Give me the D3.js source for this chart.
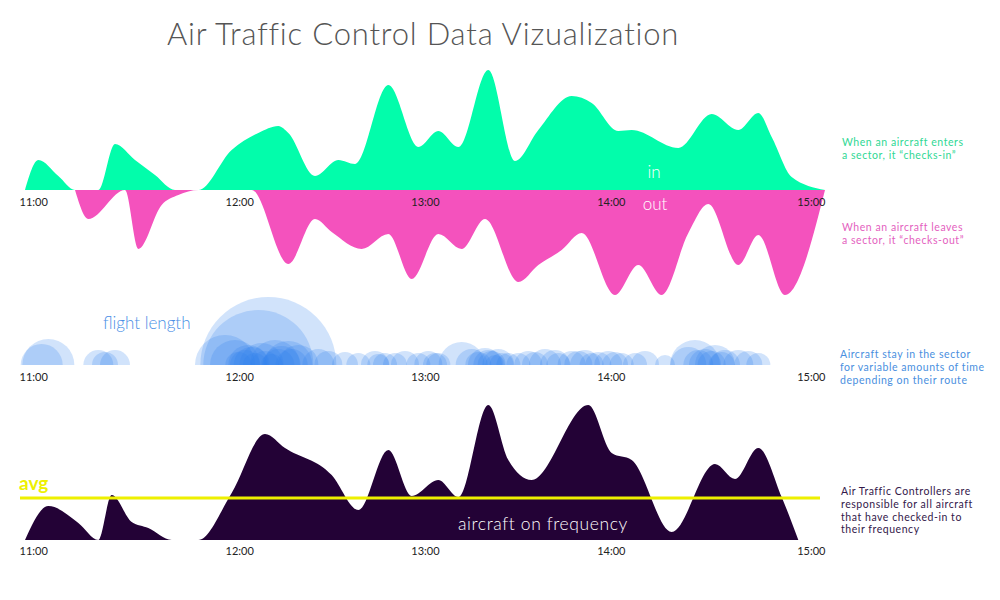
<!DOCTYPE html>
<html>
<head>
<meta charset="utf-8">
<script src="https://cdn.jsdelivr.net/npm/d3@7/dist/d3.min.js"></script>
<style>
  html, body { margin: 0; padding: 0; background: #fff; }
  svg { display: block; font-family: Lato, "Open Sans", sans-serif; }
</style>
</head>
<body>
<svg id="chart" width="1000" height="600"></svg>
<script>
// ---------------- DATA ----------------
const timeDomain = ["11:00", "15:00"];
const tickLabels = ["11:00", "12:00", "13:00", "14:00", "15:00"];

// aircraft checking in
const inTimes  = ["11:00","11:04","11:10","11:15","11:22","11:27","11:33","11:39","11:45","11:52",
                  "12:02","12:10","12:16","12:19","12:27","12:34","12:39","12:49","12:58","13:04",
                  "13:10","13:19","13:27","13:34","13:44","13:50","13:58","14:02","14:16","14:26",
                  "14:34","14:40","14:44","14:50","15:00"];
const inValues = [0, 3.0, 1.4, 0, 0, 4.6, 3.0, 1.5, 0, 0,
                  4.0, 5.7, 6.4, 5.7, 1.4, 3.0, 2.6, 10.5, 4.3, 5.9,
                  4.3, 12.0, 2.9, 6.0, 9.4, 8.7, 5.9, 6.0, 4.2, 7.6,
                  6.0, 7.7, 5.3, 1.3, 0];

// aircraft checking out
const outTimes  = ["11:15","11:19","11:30","11:34","11:41","11:46","11:52","12:08","12:19","12:27",
                   "12:32","12:41","12:49","12:56","13:04","13:11","13:18","13:28","13:34","13:41",
                   "13:47","13:57","14:04","14:11","14:19","14:25","14:34","14:40","14:48","15:00"];
const outValues = [0, 2.9, 0, 5.9, 1.5, 0.5, 0, 0, 7.4, 2.9,
                   4.2, 5.9, 4.4, 8.9, 4.4, 5.9, 2.9, 9.2, 7.5, 6.0,
                   4.3, 10.5, 7.5, 10.5, 4.3, 1.4, 7.5, 4.5, 10.5, 0];

// flights: check-in time and flight length
const flightTimes   = ["11:07","11:05","11:22","11:24","11:27","12:13","12:10","12:00","12:03","12:07",
                       "12:06","12:11","12:15","12:19","12:22","12:09","12:16","12:28","12:31","12:36",
                       "12:40","12:45","12:48","12:51","12:54","12:58","13:01","13:04","13:11","13:14",
                       "13:18","13:20","13:22","13:25","13:28","13:31","13:36","13:39","13:40","13:44",
                       "13:48","13:52","13:55","13:59","14:03","14:06","14:12","14:21","14:19","14:24",
                       "14:27","14:30","14:34","14:37","14:40","13:21","12:14","12:04",
                       "12:08","12:12","12:17","12:20","13:16","13:19","13:23","13:33","13:46","13:50",
                       "13:57","14:22","14:26","14:29","12:46","13:03"];
const flightLengths = [26, 21, 15, 13, 15, 68, 55, 30, 25, 20,
                       15, 22, 25, 24, 20, 12, 16, 16, 14, 13,
                       12, 14, 12, 12, 14, 12, 14, 12, 23, 16,
                       17, 14, 16, 12, 12, 14, 16, 15, 12, 14,
                       15, 13, 14, 12, 12, 14, 10, 25, 18, 16,
                       20, 15, 15, 14, 12, 10, 11, 13,
                       18, 14, 19, 16, 13, 15, 12, 13, 14, 12,
                       13, 15, 14, 13, 11, 12];

// aircraft on frequency
const freqTimes  = ["11:00","11:07","11:16","11:22","11:26","11:32","11:37","11:44","11:52","12:02",
                    "12:12","12:18","12:32","12:40","12:49","12:56","13:04","13:10","13:19","13:25",
                    "13:32","13:49","13:56","14:02","14:14","14:27","14:33","14:40","14:47","14:52"];
const freqValues = [0, 3.4, 1.7, 0, 4.5, 1.8, 1.2, 0, 0, 4.7,
                    10.6, 9.2, 6.5, 3.0, 9.0, 4.4, 6.0, 4.3, 13.5, 8.0,
                    6.0, 13.5, 8.7, 8.0, 0.8, 7.6, 6.1, 9.2, 4.3, 0];
const freqAverage = 4.2;

// ---------------- DRAW ----------------
const parse = d3.timeParse("%H:%M");
const svg = d3.select("#chart");

const x = d3.scaleTime().domain(timeDomain.map(parse)).range([25, 825]);
const yIn   = d3.scaleLinear().domain([0, 12]).range([190, 70]);
const yOut  = d3.scaleLinear().domain([0, 12]).range([190, 310]);
const rLen  = d3.scaleLinear().domain([0, 70]).range([0, 70]);
const bubbleBase = 365;
const yFreq = d3.scaleLinear().domain([0, 13.5]).range([540, 405]);

const zip = (ts, vs) => ts.map((t, i) => ({ t: parse(t), v: vs[i] }));

// Title
svg.append("text")
  .attr("x", 167).attr("y", 45)
  .attr("font-size", 31).attr("font-weight", 300)
  .attr("letter-spacing", 0.8)
  .attr("fill", "#555")
  .text("Air Traffic Control Data Vizualization");

// In / Out areas
const areaIn = d3.area().curve(d3.curveMonotoneX)
  .x(d => x(d.t)).y0(yIn(0)).y1(d => yIn(d.v));
const areaOut = d3.area().curve(d3.curveMonotoneX)
  .x(d => x(d.t)).y0(yOut(0)).y1(d => yOut(d.v));

svg.append("path").datum(zip(outTimes, outValues)).attr("d", areaOut).attr("fill", "#f452bd");
svg.append("path").datum(zip(inTimes, inValues)).attr("d", areaIn).attr("fill", "#02fdab");

svg.append("text").attr("x", 654).attr("y", 178).attr("text-anchor", "middle")
  .attr("font-size", 17).attr("font-weight", 300).attr("fill", "#fff").text("in");
svg.append("text").attr("x", 655).attr("y", 210).attr("text-anchor", "middle")
  .attr("font-size", 17).attr("font-weight", 300).attr("fill", "#fff").text("out");

// Axis helper
function timeAxis(yPos) {
  const g = svg.append("g").attr("transform", `translate(0,${yPos})`)
    .call(d3.axisBottom(x).tickValues(tickLabels.map(parse))
      .tickFormat(d3.timeFormat("%H:%M")).tickSize(0).tickPadding(0));
  g.select(".domain").remove();
  g.selectAll("text")
    .attr("font-family", "Lato, sans-serif")
    .attr("font-size", 11).attr("fill", "#222")
    .attr("dy", 0)
    .attr("text-anchor", (d, i) => i < 2 ? "start" : (i === 2 ? "middle" : "end"))
    .attr("dx", (d, i) => i === 0 ? -6 : 0);
  return g;
}
timeAxis(206);

// Bubbles
svg.append("clipPath").attr("id", "aboveBase")
  .append("rect").attr("x", 0).attr("y", 0).attr("width", 1000).attr("height", bubbleBase);

svg.append("g").attr("clip-path", "url(#aboveBase)")
  .selectAll("circle")
  .data(zip(flightTimes, flightLengths))
  .join("circle")
  .attr("cx", d => x(d.t)).attr("cy", bubbleBase)
  .attr("r", d => rLen(d.v))
  .attr("fill", "#2f80ed").attr("fill-opacity", 0.22);

svg.append("text").attr("x", 103).attr("y", 329)
  .attr("font-size", 17).attr("font-weight", 300).attr("fill", "#4a8fe6")
  .text("flight length");

timeAxis(381);

// Frequency
const areaFreq = d3.area().curve(d3.curveMonotoneX)
  .x(d => x(d.t)).y0(yFreq(0)).y1(d => yFreq(d.v));
svg.append("path").datum(zip(freqTimes, freqValues)).attr("d", areaFreq).attr("fill", "#230236");

svg.append("line")
  .attr("x1", x(parse(timeDomain[0])) - 5).attr("x2", x(parse(timeDomain[1])) - 5)
  .attr("y1", yFreq(freqAverage)).attr("y2", yFreq(freqAverage))
  .attr("stroke", "#eef000").attr("stroke-width", 3);

svg.append("text").attr("x", 19).attr("y", 490)
  .attr("font-size", 19).attr("font-weight", 700).attr("fill", "#eef000").text("avg");

svg.append("text").attr("x", 458).attr("y", 530)
  .attr("font-size", 17.5).attr("font-weight", 300).attr("letter-spacing", 0.6).attr("fill", "#fff")
  .text("aircraft on frequency");

timeAxis(555);

// Annotations
function note(xp, y0, color, lines) {
  const t = svg.append("text").attr("x", xp).attr("y", y0)
    .attr("font-size", 10.5).attr("fill", color).attr("letter-spacing", 0.55);
  lines.forEach((l, i) => t.append("tspan").attr("x", xp).attr("dy", i === 0 ? 0 : 12.8).text(l));
}
note(842, 146, "#2fd894", ["When an aircraft enters", "a sector, it \u201cchecks-in\u201d"]);
note(842, 231, "#e45fc0", ["When an aircraft leaves", "a sector,  it \u201cchecks-out\u201d"]);
note(840, 358, "#4a8fe0", ["Aircraft stay in the sector", "for variable amounts of time", "depending on their route"]);
note(841, 495, "#33184a", ["Air Traffic Controllers are", "responsible for all aircraft", "that have checked-in to", "their frequency"]);
</script>
</body>
</html>
